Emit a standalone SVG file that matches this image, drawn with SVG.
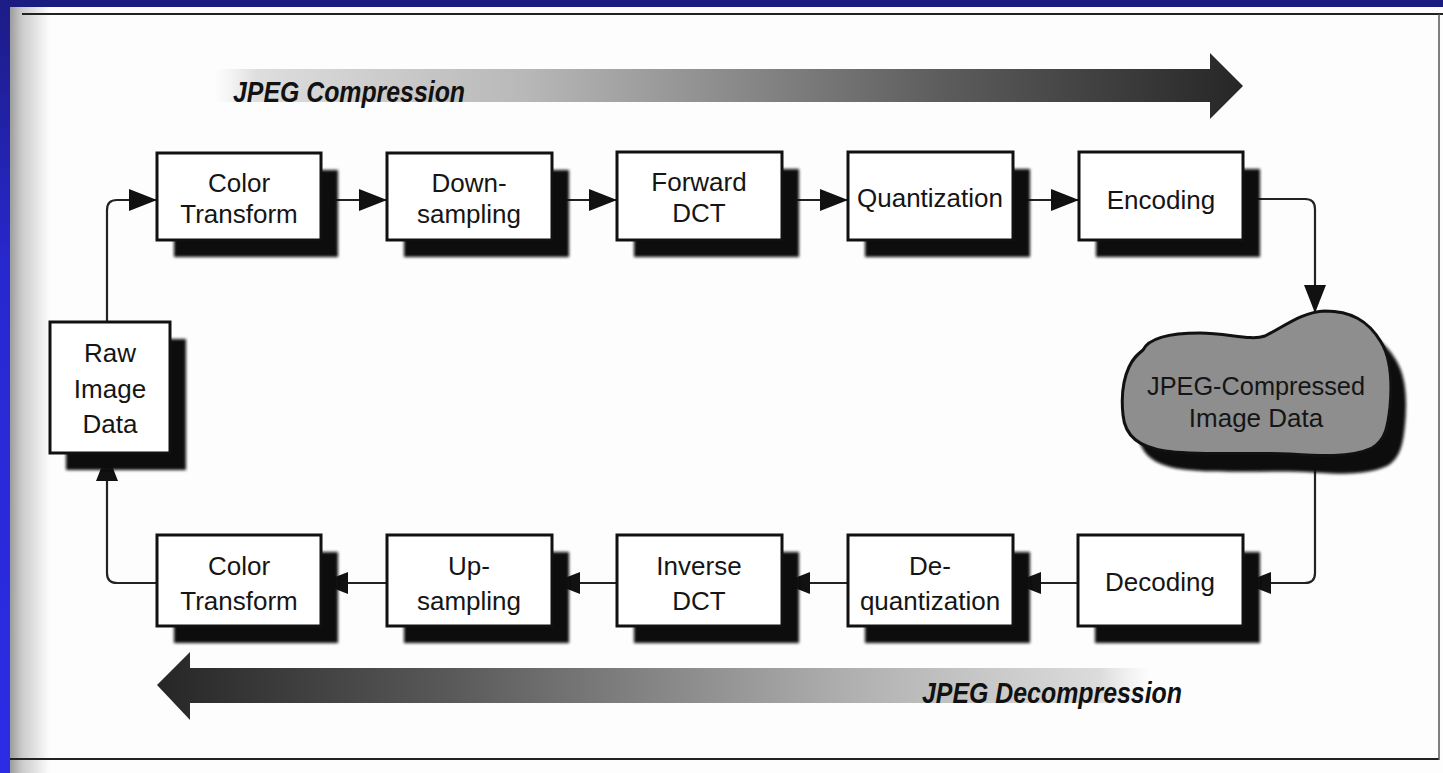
<svg xmlns="http://www.w3.org/2000/svg" width="1443" height="773" viewBox="0 0 1443 773">
  <style>
    .box { fill: #ffffff; stroke: #111; stroke-width: 3; }
    .shadow { fill: #0a0a0a; filter: url(#blur); }
    .lbl { font-family: "Liberation Sans", Arial, sans-serif; font-size: 26px; fill: #151515; text-anchor: middle; }
    .big { font-family: "Liberation Sans", Arial, sans-serif; font-size: 30px; font-weight: bold; font-style: italic; fill: #111; }
    .conn { fill: none; stroke: #222; stroke-width: 2.2; }
  </style>
  <defs>
    <filter id="blur" x="-10%" y="-10%" width="120%" height="120%">
      <feGaussianBlur stdDeviation="1.6"/>
    </filter>
    <marker id="ah" markerUnits="userSpaceOnUse" markerWidth="28" markerHeight="22" viewBox="0 0 28 22" refX="28" refY="11" orient="auto">
      <path d="M0,0 L28,11 L0,22 Z" fill="#111"/>
    </marker>
    <linearGradient id="leftBlue" x1="0" y1="0" x2="0" y2="1">
      <stop offset="0" stop-color="#1c1c86"/>
      <stop offset="0.35" stop-color="#2828d0"/>
      <stop offset="1" stop-color="#2c2ce6"/>
    </linearGradient>
    <linearGradient id="fold" x1="0" y1="0" x2="1" y2="0">
      <stop offset="0" stop-color="#9c9c9c"/>
      <stop offset="0.3" stop-color="#cbcbcb"/>
      <stop offset="1" stop-color="#fdfdfd"/>
    </linearGradient>
    <linearGradient id="compGrad" gradientUnits="userSpaceOnUse" x1="215" y1="0" x2="1243" y2="0">
      <stop offset="0" stop-color="#e6e6e6" stop-opacity="0"/>
      <stop offset="0.04" stop-color="#dedede" stop-opacity="1"/>
      <stop offset="0.3" stop-color="#b8b8b8"/>
      <stop offset="0.7" stop-color="#5e5e5e"/>
      <stop offset="1" stop-color="#262626"/>
    </linearGradient>
    <linearGradient id="decompGrad" gradientUnits="userSpaceOnUse" x1="157" y1="0" x2="1150" y2="0">
      <stop offset="0" stop-color="#262626"/>
      <stop offset="0.3" stop-color="#5a5a5a"/>
      <stop offset="0.7" stop-color="#b0b0b0"/>
      <stop offset="0.95" stop-color="#dcdcdc" stop-opacity="1"/>
      <stop offset="1" stop-color="#e6e6e6" stop-opacity="0"/>
    </linearGradient>
  </defs>

  <!-- frame / page -->
  <rect x="0" y="0" width="1443" height="773" fill="#fdfdfd"/>
  <rect x="0" y="0" width="1443" height="7" fill="#1c1c80"/>
  <rect x="0" y="0" width="10" height="773" fill="url(#leftBlue)"/>
  <rect x="10" y="7" width="40" height="766" fill="url(#fold)"/>
  <line x1="22" y1="14" x2="1443" y2="14" stroke="#222" stroke-width="2"/>
  <line x1="10" y1="759" x2="1439" y2="759" stroke="#222" stroke-width="2"/>
  <line x1="1439" y1="14" x2="1439" y2="760" stroke="#555" stroke-width="1.5"/>

  <!-- big direction arrows -->
  <g id="compression-arrow">
    <path d="M215,69 L1210,69 L1210,53 L1243,86 L1210,119 L1210,102 L215,102 Z" fill="url(#compGrad)"/>
    <text class="big" x="233" y="102" textLength="232" lengthAdjust="spacingAndGlyphs">JPEG Compression</text>
  </g>
  <g id="decompression-arrow">
    <path d="M157,685 L190,652 L190,668 L1150,668 L1150,703 L190,703 L190,720 Z" fill="url(#decompGrad)"/>
    <text class="big" x="922" y="703" textLength="260" lengthAdjust="spacingAndGlyphs">JPEG Decompression</text>
  </g>

  <!-- connectors -->
  <g id="connectors">
    <path class="conn" d="M107,322 L107,210 Q107,200 117,200 L157,200" marker-end="url(#ah)"/>
    <path class="conn" d="M320,200 L387,200" marker-end="url(#ah)"/>
    <path class="conn" d="M552,200 L617,200" marker-end="url(#ah)"/>
    <path class="conn" d="M782,200 L848,200" marker-end="url(#ah)"/>
    <path class="conn" d="M1013,200 L1079,200" marker-end="url(#ah)"/>
    <path class="conn" d="M1243,199 L1305,199 Q1315,199 1315,209 L1315,313" marker-end="url(#ah)"/>
    <path class="conn" d="M1315,455 L1315,573 Q1315,583 1305,583 L1243,583" marker-end="url(#ah)"/>
    <path class="conn" d="M1078,583 L1013,583" marker-end="url(#ah)"/>
    <path class="conn" d="M848,583 L782,583" marker-end="url(#ah)"/>
    <path class="conn" d="M617,583 L552,583" marker-end="url(#ah)"/>
    <path class="conn" d="M387,583 L320,583" marker-end="url(#ah)"/>
    <path class="conn" d="M157,583 L117,583 Q107,583 107,573 L107,453" marker-end="url(#ah)"/>
  </g>

  <!-- nodes -->
  <g id="raw-image-data">
    <rect class="shadow" x="66" y="339" width="120" height="131"/>
    <rect class="box" x="50" y="322" width="120" height="131"/>
    <text class="lbl" x="110" y="362">Raw</text>
    <text class="lbl" x="110" y="398">Image</text>
    <text class="lbl" x="110" y="433">Data</text>
  </g>
  <g id="color-transform-1">
    <rect class="shadow" x="174" y="170" width="164" height="87"/>
    <rect class="box" x="157" y="153" width="164" height="87"/>
    <text class="lbl" x="239" y="192">Color</text>
    <text class="lbl" x="239" y="223">Transform</text>
  </g>
  <g id="down-sampling">
    <rect class="shadow" x="404" y="170" width="165" height="87"/>
    <rect class="box" x="387" y="153" width="165" height="87"/>
    <text class="lbl" x="469" y="192">Down-</text>
    <text class="lbl" x="469" y="223">sampling</text>
  </g>
  <g id="forward-dct">
    <rect class="shadow" x="634" y="169" width="165" height="88"/>
    <rect class="box" x="617" y="152" width="165" height="88"/>
    <text class="lbl" x="699" y="191">Forward</text>
    <text class="lbl" x="699" y="222">DCT</text>
  </g>
  <g id="quantization">
    <rect class="shadow" x="865" y="169" width="165" height="88"/>
    <rect class="box" x="848" y="152" width="165" height="88"/>
    <text class="lbl" x="930" y="207">Quantization</text>
  </g>
  <g id="encoding">
    <rect class="shadow" x="1096" y="169" width="164" height="88"/>
    <rect class="box" x="1079" y="152" width="164" height="88"/>
    <text class="lbl" x="1161" y="209">Encoding</text>
  </g>
  <g id="jpeg-compressed-data">
    <path fill="#0a0a0a" filter="url(#blur)" transform="translate(15,18)" d="M1143,350 C1150,336 1175,333 1200,333 C1228,333 1250,341 1265,336 C1285,326 1302,312 1325,311 C1350,311 1368,320 1381,342 C1392,360 1392,385 1390,407 C1388,425 1386,440 1372,448 C1350,458 1320,456 1290,454 C1250,452 1200,456 1165,451 C1140,447 1125,437 1123,415 C1121,396 1123,380 1129,367 C1133,358 1138,354 1143,350 Z"/>
    <path fill="#8e8e8e" stroke="#111" stroke-width="3" d="M1143,350 C1150,336 1175,333 1200,333 C1228,333 1250,341 1265,336 C1285,326 1302,312 1325,311 C1350,311 1368,320 1381,342 C1392,360 1392,385 1390,407 C1388,425 1386,440 1372,448 C1350,458 1320,456 1290,454 C1250,452 1200,456 1165,451 C1140,447 1125,437 1123,415 C1121,396 1123,380 1129,367 C1133,358 1138,354 1143,350 Z"/>
    <text class="lbl" x="1256" y="395" textLength="218" lengthAdjust="spacingAndGlyphs">JPEG-Compressed</text>
    <text class="lbl" x="1256" y="427">Image Data</text>
  </g>
  <g id="decoding">
    <rect class="shadow" x="1095" y="552" width="165" height="91"/>
    <rect class="box" x="1078" y="535" width="165" height="91"/>
    <text class="lbl" x="1160" y="591">Decoding</text>
  </g>
  <g id="de-quantization">
    <rect class="shadow" x="865" y="552" width="165" height="91"/>
    <rect class="box" x="848" y="535" width="165" height="91"/>
    <text class="lbl" x="930" y="575">De-</text>
    <text class="lbl" x="930" y="610">quantization</text>
  </g>
  <g id="inverse-dct">
    <rect class="shadow" x="634" y="552" width="165" height="91"/>
    <rect class="box" x="617" y="535" width="165" height="91"/>
    <text class="lbl" x="699" y="575">Inverse</text>
    <text class="lbl" x="699" y="610">DCT</text>
  </g>
  <g id="up-sampling">
    <rect class="shadow" x="404" y="552" width="165" height="91"/>
    <rect class="box" x="387" y="535" width="165" height="91"/>
    <text class="lbl" x="469" y="575">Up-</text>
    <text class="lbl" x="469" y="610">sampling</text>
  </g>
  <g id="color-transform-2">
    <rect class="shadow" x="174" y="552" width="164" height="91"/>
    <rect class="box" x="157" y="535" width="164" height="91"/>
    <text class="lbl" x="239" y="575">Color</text>
    <text class="lbl" x="239" y="610">Transform</text>
  </g>
</svg>
